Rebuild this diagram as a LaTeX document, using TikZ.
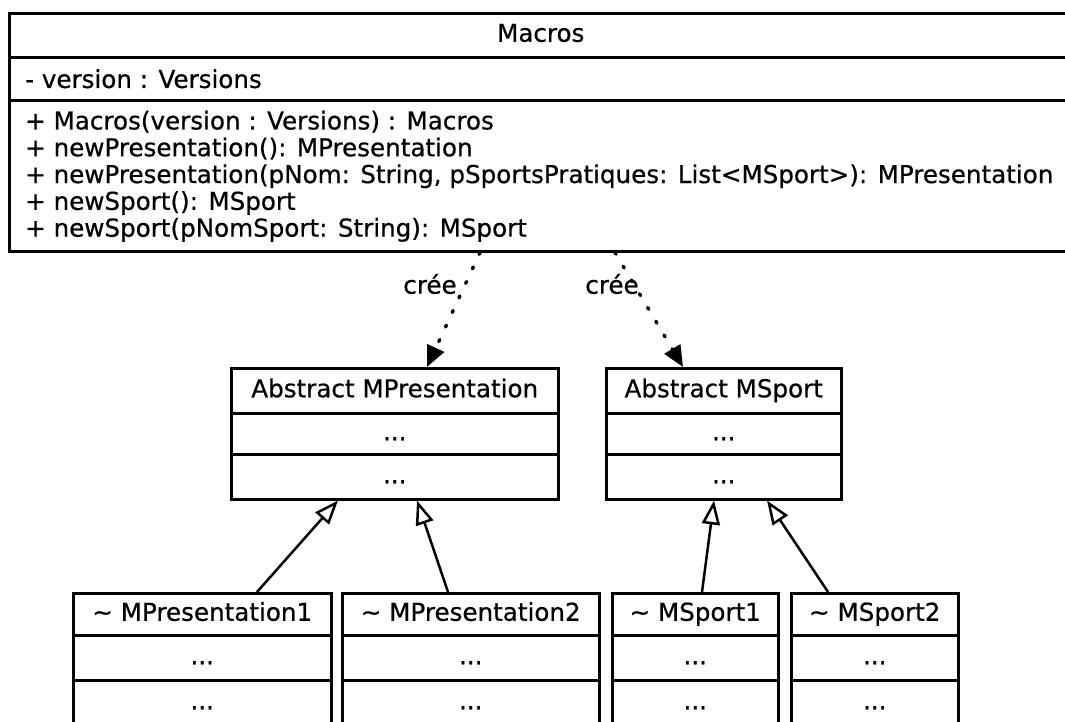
\documentclass[tikz,border=0pt]{standalone}
\usepackage{fontspec}
\setmainfont{DejaVu Sans}[FakeBold=0.6]
\usetikzlibrary{arrows.meta,calc}

\tikzset{
  txt/.style={font=\fontsize{24.6}{26.8}\selectfont},
  cell/.style={draw, line width=2.5pt, inner sep=0pt, anchor=north west, txt,
    text height=18pt, text depth=5pt},
  label/.style={inner sep=0pt, txt},
  creates/.style={line width=3.5pt, line cap=round, dash pattern=on 2pt off 14pt,
    -{Triangle[length=21pt, width=18pt]}},
  inherits/.style={line width=2.5pt,
    -{Triangle[open, length=24pt, width=18pt, fill=white, line width=2.5pt]}},
}

\begin{document}
\begin{tikzpicture}[x=1pt, y=-1pt]
  \clip (0,0) rectangle (1065,721);
  \fill[white] (0,0) rectangle (1065,721);

  % Factory class
  \node[cell, minimum width=1063, minimum height=44] (macT) at (8,12) {Macros};
  \node[cell, minimum width=1063, minimum height=43] (macA) at (8,56) {};
  \node[cell, minimum width=1063, minimum height=151] (macM) at (8,99) {};
  \node[label, anchor=west] (macAtxt) at ($(macA.west)+(17,0)$) {- version : Versions};
  \node[label, anchor=west, align=left] (macMtxt) at ($(macM.west)+(17,0.5)$)
    {+ Macros(version : Versions) : Macros\\
     + newPresentation(): MPresentation\\
     + newPresentation(pNom: String, pSportsPratiques: List<MSport>): MPresentation\\
     + newSport(): MSport\\
     + newSport(pNomSport: String): MSport};

  % Abstract products
  \node[cell, minimum width=327, minimum height=45] (ampT) at (230,367) {Abstract MPresentation};
  \node[cell, minimum width=327, minimum height=41] (ampA) at (230,412) {...};
  \node[cell, minimum width=327, minimum height=45] (ampO) at (230,453) {...};

  \node[cell, minimum width=235, minimum height=45] (amsT) at (605,367) {Abstract MSport};
  \node[cell, minimum width=235, minimum height=41] (amsA) at (605,412) {...};
  \node[cell, minimum width=235, minimum height=45] (amsO) at (605,453) {...};

  % Concrete products
  \node[cell, minimum width=258, minimum height=42] (mp1T) at (72,592) {\textasciitilde{} MPresentation1};
  \node[cell, minimum width=258, minimum height=45] (mp1A) at (72,634) {...};
  \node[cell, minimum width=258, minimum height=45] (mp1O) at (72,679) {...};

  \node[cell, minimum width=257, minimum height=42] (mp2T) at (341,592) {\textasciitilde{} MPresentation2};
  \node[cell, minimum width=257, minimum height=45] (mp2A) at (341,634) {...};
  \node[cell, minimum width=257, minimum height=45] (mp2O) at (341,679) {...};

  \node[cell, minimum width=166, minimum height=42] (ms1T) at (611,592) {\textasciitilde{} MSport1};
  \node[cell, minimum width=166, minimum height=45] (ms1A) at (611,634) {...};
  \node[cell, minimum width=166, minimum height=45] (ms1O) at (611,679) {...};

  \node[cell, minimum width=167, minimum height=42] (ms2T) at (790,592) {\textasciitilde{} MSport2};
  \node[cell, minimum width=167, minimum height=45] (ms2A) at (790,634) {...};
  \node[cell, minimum width=167, minimum height=45] (ms2O) at (790,679) {...};

  % Creation dependencies
  \draw[creates] (480,0 |- macM.south) -- (427,0 |- ampT.north);
  \draw[creates] (615,0 |- macM.south) -- (683,0 |- amsT.north);
  \node[label] (cree1) at (430,284) {crée};
  \node[label] (cree2) at (612,284) {crée};

  % Generalisations
  \draw[inherits] (257,0 |- mp1T.north) -- (338,0 |- ampO.south);
  \draw[inherits] (448,0 |- mp2T.north) -- (417,0 |- ampO.south);
  \draw[inherits] (702,0 |- ms1T.north) -- (714,0 |- amsO.south);
  \draw[inherits] (828,0 |- ms2T.north) -- (767,0 |- amsO.south);
\end{tikzpicture}
\end{document}
